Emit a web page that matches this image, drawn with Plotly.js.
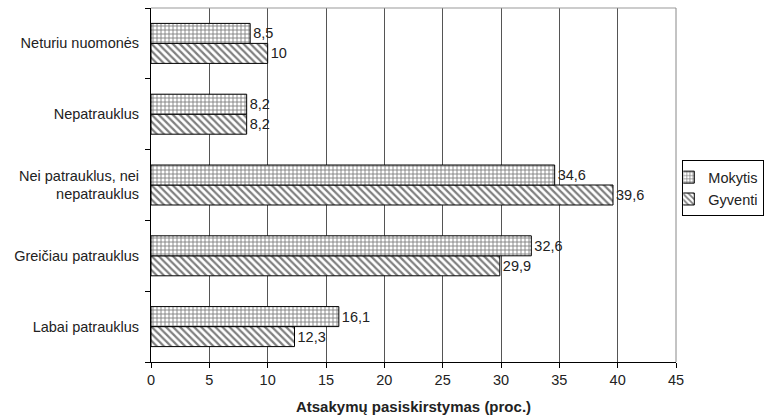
<!DOCTYPE html>
<html>
<head>
<meta charset="utf-8">
<script src="https://cdn.plot.ly/plotly-3.0.1.min.js"></script>
<style>html,body{margin:0;padding:0;background:#fff;}#chart{width:764px;height:420px;}</style>
</head>
<body>
<div id="chart"></div>
<script>
const categories = ["Labai patrauklus", "Greičiau patrauklus", "Nei patrauklus, nei<br>nepatrauklus", "Nepatrauklus", "Neturiu nuomonės"];
const mokytis = [16.1, 32.6, 34.6, 8.2, 8.5];
const gyventi = [12.3, 29.9, 39.6, 8.2, 10];
const xTicks = [0, 5, 10, 15, 20, 25, 30, 35, 40, 45];
const fmt = v => String(v).replace('.', ',');

const font = {family: 'Liberation Sans, Arial, sans-serif', size: 14.5, color: '#222'};

const traces = [
  {
    type: 'bar', orientation: 'h', name: 'Gyventi',
    y: categories, x: gyventi,
    text: gyventi.map(fmt), textposition: 'outside', cliponaxis: false,
    textfont: font,
    marker: {color: '#fff', line: {color: '#000', width: 1},
      pattern: {shape: '\\', fgcolor: '#000', bgcolor: '#fff', size: 5, solidity: 0.45, fillmode: 'overlay'}}
  },
  {
    type: 'bar', orientation: 'h', name: 'Mokytis',
    y: categories, x: mokytis,
    text: mokytis.map(fmt), textposition: 'outside', cliponaxis: false,
    textfont: font,
    marker: {color: '#fff', line: {color: '#000', width: 1},
      pattern: {shape: '+', fgcolor: '#000', bgcolor: '#fff', size: 4, solidity: 0.4, fillmode: 'overlay'}}
  }
];

const layout = {
  width: 764, height: 420,
  margin: {l: 151, r: 88, t: 8, b: 58, autoexpand: false},
  paper_bgcolor: '#fff', plot_bgcolor: '#fff',
  font: font,
  barmode: 'group', bargap: 0.435, bargroupgap: 0,
  showlegend: true,
  legend: {x: 1.012, y: 0.57, xanchor: 'left', yanchor: 'top', traceorder: 'reversed',
    bordercolor: '#000', borderwidth: 1, bgcolor: '#fff',
    font: {family: 'Liberation Sans, Arial, sans-serif', size: 14.5, color: '#222'},
    itemwidth: 30, tracegroupgap: 0, indentation: -15},
  xaxis: {
    range: [0, 45], tickvals: xTicks, ticktext: xTicks.map(String),
    showgrid: true, gridcolor: '#555', gridwidth: 1,
    showline: true, linecolor: '#000', linewidth: 1,
    ticks: 'outside', ticklen: 5, tickcolor: '#000',
    zeroline: false, tickfont: font,
    title: {text: '<b>Atsakymų pasiskirstymas (proc.)</b>', font: {family: 'Liberation Sans, Arial, sans-serif', size: 15, color: '#222'}, standoff: 14}
  },
  yaxis: {
    type: 'category', showgrid: false,
    showline: true, linecolor: '#000', linewidth: 1,
    ticks: 'outside', ticklen: 5, tickcolor: '#000', tickson: 'boundaries',
    tickfont: font, ticklabelstandoff: 8
  },
  shapes: [
    {type: 'line', xref: 'paper', yref: 'paper', x0: 0, x1: 1, y0: 1, y1: 1, line: {color: '#999', width: 1}},
    {type: 'line', xref: 'paper', yref: 'paper', x0: 1, x1: 1, y0: 0, y1: 1, line: {color: '#888', width: 1}}
  ]
};

Plotly.newPlot('chart', traces, layout, {displayModeBar: false, staticPlot: true});
</script>
</body>
</html>
